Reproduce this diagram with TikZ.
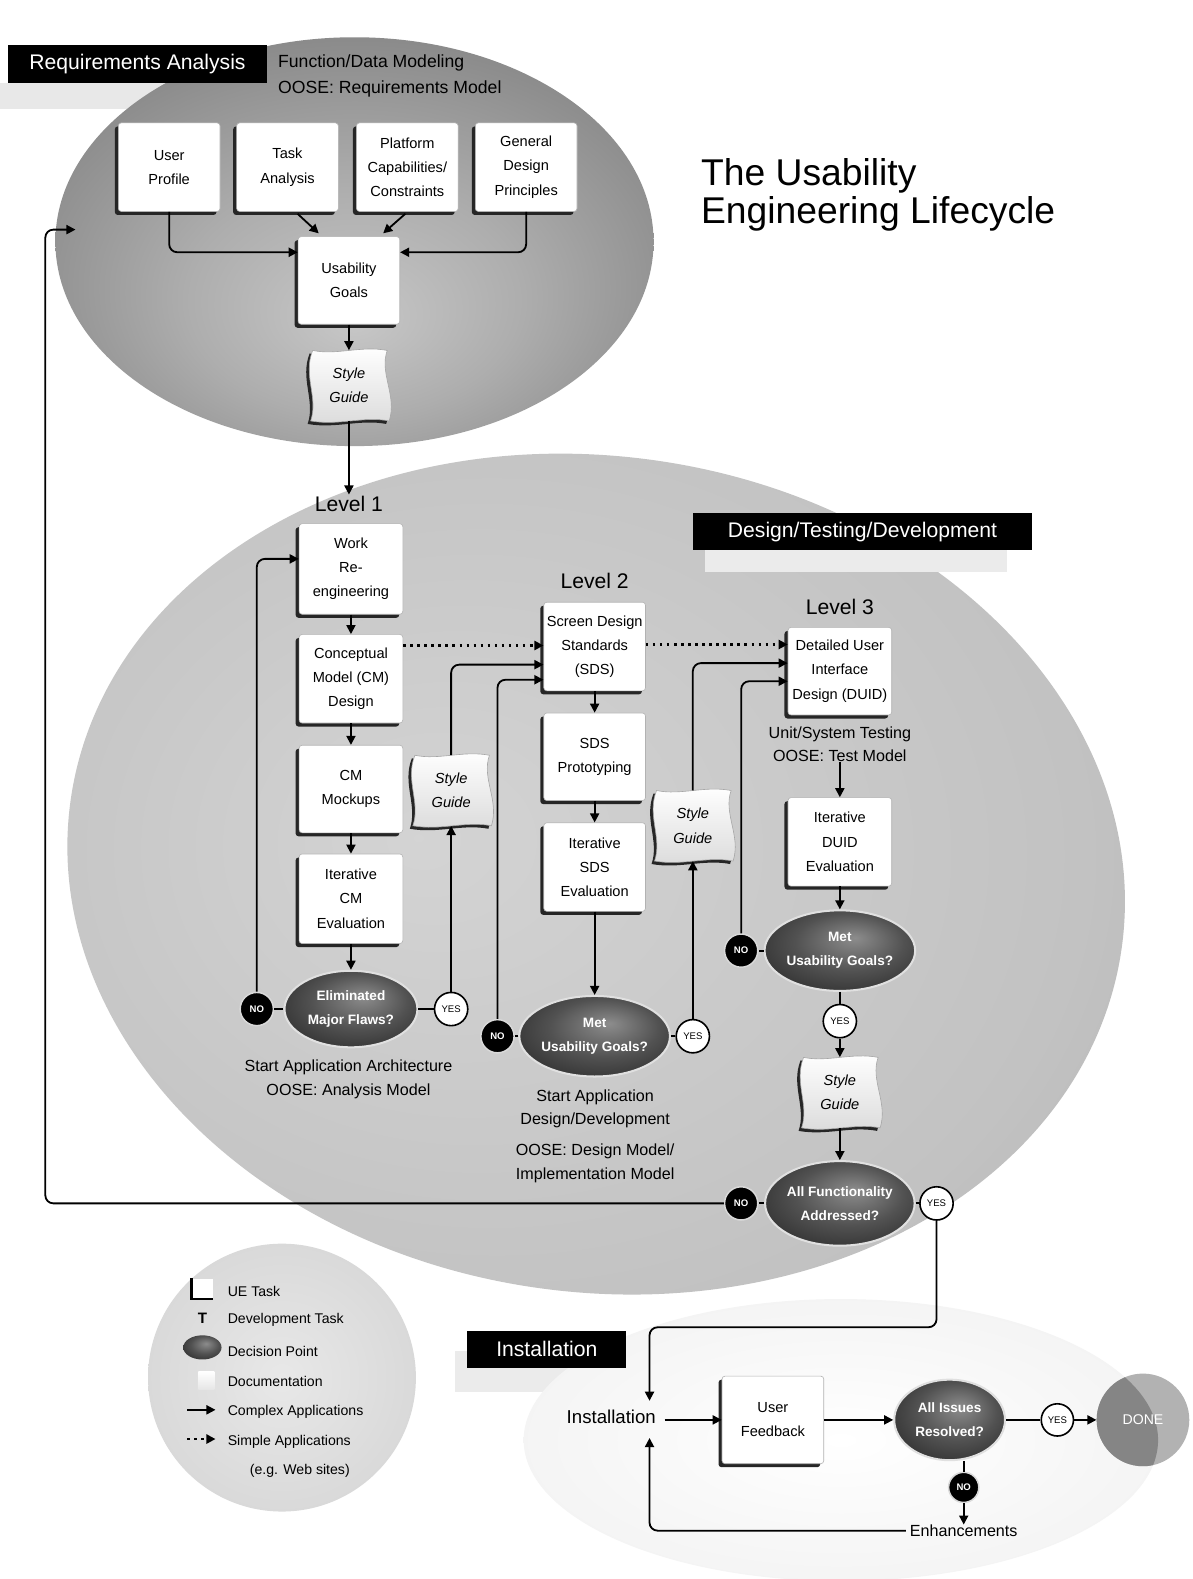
\documentclass[tikz,border=0pt]{standalone}
\usepackage{fontspec}
\setmainfont{Liberation Sans}
\usetikzlibrary{arrows.meta,shapes.geometric,shadows,calc}

\newcommand\uetaskfont{\fontsize{14.5}{24}\selectfont}
\newcommand\uedecfont{\fontsize{13.5}{24}\selectfont\bfseries}
\newcommand\uenotefont{\fontsize{16}{23.5}\selectfont}
\newcommand\uebignotefont{\fontsize{17.5}{25}\selectfont}
\newcommand\uetagfont{\fontsize{21}{24}\selectfont}
\newcommand\uelevelfont{\fontsize{21}{24}\selectfont}
\newcommand\ueynfont{\fontsize{9.5}{10}\selectfont}
\newcommand\uelegendfont{\fontsize{14}{16}\selectfont}
\newcommand\uetitlefont{\fontsize{37}{37}\selectfont}

\pgfdeclareradialshading{topglow}{\pgfpoint{0bp}{-10bp}}{color(0bp)=(black!22); color(14bp)=(black!32); color(34bp)=(black!50); color(50bp)=(black!62)}
\pgfdeclareradialshading{midglow}{\pgfpoint{-8bp}{2bp}}{color(0bp)=(black!17); color(26bp)=(black!24); color(42bp)=(black!33); color(50bp)=(black!47)}
\pgfdeclareradialshading{legendglow}{\pgfpoint{0bp}{0bp}}{color(0bp)=(black!9); color(30bp)=(black!16); color(50bp)=(black!25)}
\pgfdeclareradialshading{instglow}{\pgfpoint{0bp}{0bp}}{color(0bp)=(white); color(30bp)=(black!5); color(50bp)=(black!16)}
\pgfdeclareradialshading{decshade}{\pgfpoint{5bp}{8bp}}{color(0bp)=(black!45); color(18bp)=(black!68); color(38bp)=(black!86); color(50bp)=(black!93)}

% wavy "Style Guide" sheet drawn around a centre point
\newcommand\styleguide[2]{%
  \begin{scope}[shift={#2}]
    \fill[black!85, shift={(-3,3)}]
      (-36,-35) .. controls (-12,-30) and (12,-40) .. (38,-35)
      .. controls (30,-12) and (48,10) .. (40,35)
      .. controls (14,30) and (-10,40) .. (-38,35)
      .. controls (-30,12) and (-46,-10) .. (-36,-35) -- cycle;
    \shade[top color=white, bottom color=black!14, draw=black!35, line width=0.6pt]
      (-36,-35) .. controls (-12,-30) and (12,-40) .. (38,-35)
      .. controls (30,-12) and (48,10) .. (40,35)
      .. controls (14,30) and (-10,40) .. (-38,35)
      .. controls (-30,12) and (-46,-10) .. (-36,-35) -- cycle;
  \end{scope}
  \node[sgtext] (#1) at #2 {Style\\Guide};
}

\begin{document}
\begin{tikzpicture}[x=1pt, y=-1pt,
  uetask/.style={fill=white, draw=black!30, line width=0.6pt, rounded corners=3pt,
    minimum width=101pt, minimum height=88pt, inner sep=0pt, align=center, font=\uetaskfont,
    general shadow={fill=black!85, shadow xshift=-3.5pt, shadow yshift=-3.5pt, rounded corners=3pt}},
  sgtext/.style={minimum width=80pt, minimum height=70pt, inner sep=0pt, align=center, font=\uetaskfont\itshape},
  decision/.style={ellipse, shade, shading=decshade, draw=black!12, line width=2pt, text=white,
    font=\uedecfont, align=center, inner sep=0pt},
  nobubble/.style={circle, fill=black, draw=black!15, line width=1.5pt, text=white,
    font=\ueynfont\bfseries, minimum size=33pt, inner sep=0pt},
  yesbubble/.style={circle, fill=white, draw=black, line width=1.6pt,
    font=\ueynfont, minimum size=33pt, inner sep=0pt},
  tag/.style={fill=black, text=white, font=\uetagfont, inner sep=0pt, anchor=center},
  note/.style={font=\uenotefont, align=center, inner sep=0pt},
  levellabel/.style={font=\uelevelfont, inner sep=1pt},
  link/.style={line width=1.8pt},
  conn/.style={line width=1.8pt, -{Triangle[length=9pt,width=9pt]}},
  dotconn/.style={line width=2.2pt, dash pattern=on 2.5pt off 4.5pt, -{Triangle[length=9pt,width=9pt]}},
  legendtext/.style={font=\uelegendfont, anchor=west, inner sep=0pt},
]
\useasboundingbox (0,0) rectangle (1184,1568);
\fill[white] (0,0) rectangle (1184,1568);

% ---------- backgrounds ----------
\fill[black!9] (0,82) rectangle (300,108);
\shade[shading=midglow, rotate around={-8:(592,868)}] (592,868) ellipse [x radius=527, y radius=415];
\shade[shading=topglow] (352,240) ellipse [x radius=297, y radius=203];
\fill[black!8] (700,546) rectangle (1000,568);
\shade[shading=legendglow] (280,1368) circle (133);
\fill[black!8] (452,1342) rectangle (600,1382);
\shade[shading=instglow] (835,1430) ellipse [x radius=315, y radius=140];
\begin{scope}
  \fill[black!30] (1135,1410) circle (46);
  \clip (835,1430) ellipse [x radius=315, y radius=140];
  \fill[black!48] (1135,1410) circle (46);
\end{scope}

% ---------- phase labels and title ----------
\node[tag, minimum width=257pt, minimum height=37pt] (ra) at (136.5,63.5) {Requirements Analysis};
\node[font=\uebignotefont, align=left, anchor=west, inner sep=0pt] (fdm) at (276,75.5)
  {Function/Data Modeling\\OOSE: Requirements Model};
\node[font=\uetitlefont, align=left, anchor=west, inner sep=0pt] (title) at (696,193.5)
  {The Usability\\Engineering Lifecycle};
\node[tag, minimum width=337pt, minimum height=37pt] (dtd) at (856.5,528) {Design/Testing/Development};
\node[tag, minimum width=158pt, minimum height=36pt] (inl) at (543,1340) {Installation};

% ---------- requirements analysis ----------
\node[uetask] (up) at (168,166) {User\\Profile};
\node[uetask] (ta) at (285.5,166) {Task\\Analysis};
\node[uetask] (pc) at (404.5,166) {Platform\\Capabilities/\\Constraints};
\node[uetask] (gd) at (522.5,166) {General\\Design\\Principles};
\node[uetask, minimum height=87pt] (ug) at (346.5,278.5) {Usability\\Goals};
\styleguide{sg0}{(346.5,383)}

\draw[conn, rounded corners=8pt] (up.south) |- ($(ug.west)+(0,-28)$);
\draw[conn, rounded corners=8pt] (gd.south) |- ($(ug.east)+(0,-28)$);
\draw[conn] ($(ta.south)+(10,2)$) -- ($(ug.north)+(-30,-3)$);
\draw[conn] ($(pc.south)+(-2,2)$) -- ($(ug.north)+(34,-3)$);
\draw[conn] (ug.south) -- (sg0.north);

% ---------- level 1 ----------
\node[levellabel] (lev1) at (346.5,500) {Level 1};
\node[uetask, minimum width=103pt, minimum height=90pt] (wr) at (348.5,565) {Work\\Re-\\engineering};
\node[uetask, minimum width=103pt] (cm) at (348.5,674) {Conceptual\\Model (CM)\\Design};
\node[uetask, minimum width=103pt, minimum height=87pt] (mk) at (348.5,783.5) {CM\\Mockups};
\node[uetask, minimum width=103pt, minimum height=89pt] (ic) at (348.5,892.5) {Iterative\\CM\\Evaluation};
\node[decision, minimum width=132pt, minimum height=76pt] (d1) at (348.5,1002) {Eliminated\\Major Flaws?};
\node[nobubble] (no1) at (255,1002) {NO};
\node[yesbubble] (yes1) at (448,1002) {YES};
\node[note] (t1) at (346,1072) {Start Application Architecture\\OOSE: Analysis Model};
\styleguide{sg1}{(448,785)}

\draw[conn] (sg0.south) -- (lev1.north);
\draw[conn] (wr.south) -- (cm.north);
\draw[conn] (cm.south) -- (mk.north);
\draw[conn] (mk.south) -- (ic.north);
\draw[conn] (ic.south) -- (d1.north);
\draw[link] (d1.west) -- (no1.east);
\draw[link] (d1.east) -- (yes1.west);
\draw[conn, rounded corners=8pt] (no1.north) |- ($(wr.west)+(0,-10)$);
\draw[conn] (yes1.north) -- (sg1.south);

% ---------- level 2 ----------
\node[levellabel] (lev2) at (590.5,577) {Level 2};
\node[uetask] (sds) at (590.5,642) {Screen Design\\Standards\\(SDS)};
\node[uetask, minimum height=87pt] (proto) at (590.5,751.5) {SDS\\Prototyping};
\node[uetask] (isds) at (590.5,861) {Iterative\\SDS\\Evaluation};
\node[decision, minimum width=140pt, minimum height=80pt] (d2) at (590.5,1029) {Met\\Usability Goals?};
\node[nobubble] (no2) at (494,1029) {NO};
\node[yesbubble] (yes2) at (688,1029) {YES};
\node[note] (t2a) at (591,1101) {Start Application\\Design/Development};
\node[note] (t2b) at (591,1155) {OOSE: Design Model/\\Implementation Model};
\styleguide{sg2}{(688,820)}

\draw[conn, rounded corners=8pt] (sg1.north) |- ($(sds.west)+(0,18)$);
\draw[dotconn] ($(cm.east)+(0,-33)$) -- ($(sds.west)+(0,-1)$);
\draw[conn, rounded corners=8pt] (no2.north) |- ($(sds.west)+(0,33)$);
\draw[conn] (sds.south) -- (proto.north);
\draw[conn] (proto.south) -- (isds.north);
\draw[conn] (isds.south) -- (d2.north);
\draw[link] (d2.west) -- (no2.east);
\draw[link] (d2.east) -- (yes2.west);
\draw[conn] (yes2.north) -- (sg2.south);

% ---------- level 3 ----------
\node[levellabel] (lev3) at (834,603) {Level 3};
\node[uetask, minimum width=103pt, minimum height=87pt] (duid) at (834,666.5) {Detailed User\\Interface\\Design (DUID)};
\node[note] (t3) at (834,739) {Unit/System Testing\\OOSE: Test Model};
\node[uetask, minimum width=103pt] (idu) at (834,836) {Iterative\\DUID\\Evaluation};
\node[decision, minimum width=140pt, minimum height=80pt] (d3) at (834,944) {Met\\Usability Goals?};
\node[nobubble] (no3) at (736,944) {NO};
\node[yesbubble] (yes3) at (834,1014) {YES};
\styleguide{sg3}{(834,1085)}
\node[decision, minimum width=140pt, minimum height=84pt] (d4) at (834,1195) {All Functionality\\Addressed?};
\node[nobubble] (no4) at (736,1195) {NO};
\node[yesbubble] (yes4) at (930,1195) {YES};

\draw[conn, rounded corners=8pt] (sg2.north) |- ($(duid.west)+(0,-8)$);
\draw[dotconn] ($(sds.east)+(0,-2)$) -- ($(duid.west)+(0,-26.5)$);
\draw[conn, rounded corners=8pt] (no3.north) |- ($(duid.west)+(0,10)$);
\draw[conn] (t3.south) -- (idu.north);
\draw[conn] (idu.south) -- (d3.north);
\draw[link] (d3.west) -- (no3.east);
\draw[link] (d3.south) -- (yes3.north);
\draw[conn] (yes3.south) -- (sg3.north);
\draw[conn] (sg3.south) -- (d4.north);
\draw[link] (d4.west) -- (no4.east);
\draw[link] (d4.east) -- (yes4.west);

% back to requirements analysis
\coordinate (rail) at (45,700);
\coordinate (raIn) at (75,228);
\draw[conn, rounded corners=8pt] (no4.west) -| (rail) |- (raIn);

% ---------- installation ----------
\node[font=\fontsize{18.5}{20}\selectfont, inner sep=0pt] (inst) at (607,1407) {Installation};
\coordinate (instTop) at (645,1391);
\coordinate (instBot) at (645,1428);
\coordinate (instOut) at (660,1410);
\coordinate (turn) at (645,1318);
\node[uetask, minimum width=101pt, minimum height=87pt] (uf) at (767.5,1410) {User\\Feedback};
\node[decision, minimum width=110pt, minimum height=80pt] (d5) at (943,1410) {All Issues\\Resolved?};
\node[yesbubble, minimum size=32pt] (yes5) at (1050,1410) {YES};
\node[circle, minimum size=92pt, inner sep=0pt, text=white, font=\fontsize{14}{16}\selectfont] (done) at (1135,1410) {DONE};
\node[nobubble, minimum size=30pt] (no5) at (957,1477) {NO};
\node[font=\fontsize{16}{18}\selectfont, inner sep=0pt] (enh) at (957,1520) {Enhancements};

\draw[conn, rounded corners=8pt] (yes4.south) |- (turn) -- (instTop);
\draw[conn] (instOut) -- (uf.west);
\draw[conn] (uf.east) -- (d5.west);
\draw[link] (d5.east) -- (yes5.west);
\draw[conn] (yes5.east) -- (done.west);
\draw[link] (d5.south -| no5.north) -- (no5.north);
\draw[conn] (no5.south) -- (enh.north);
\draw[conn, rounded corners=8pt] ($(enh.west)+(-4,0)$) -| (instBot);

% ---------- legend ----------
\fill[white] (190,1270) rectangle (212,1290);
\draw[line width=2.5pt] (190,1269) -- (190,1290) -- (212,1290);
\node[legendtext] (lg1) at (226,1282) {UE Task};
\node[font=\fontsize{15}{16}\selectfont\bfseries, inner sep=0pt] (lgT) at (201,1309) {T};
\node[legendtext] (lg2) at (226,1311) {Development Task};
\shade[shading=decshade] (201,1338) ellipse [x radius=19, y radius=12];
\node[legendtext] (lg3) at (226,1342) {Decision Point};
\shade[top color=white, bottom color=black!10] (197,1362) rectangle (213,1380);
\node[legendtext] (lg4) at (226,1372) {Documentation};
\coordinate (la1) at (186,1400);
\coordinate (la2) at (214,1400);
\draw[conn] (la1) -- (la2);
\node[legendtext] (lg5) at (226,1402) {Complex Applications};
\coordinate (lb1) at (186,1429);
\coordinate (lb2) at (214,1429);
\draw[dotconn] (lb1) -- (lb2);
\node[legendtext] (lg6) at (226,1432) {Simple Applications};
\node[legendtext] (lg7) at (248,1461) {(e.g. Web sites)};
\end{tikzpicture}
\end{document}
